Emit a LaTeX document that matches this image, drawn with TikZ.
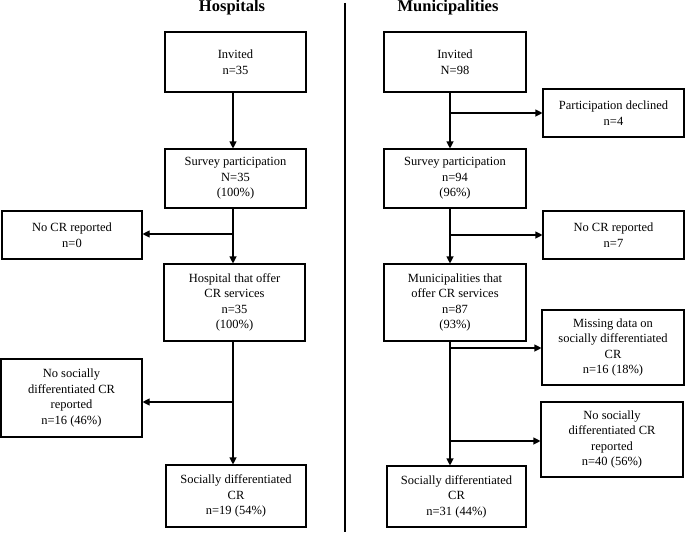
\documentclass[tikz,border=0pt]{standalone}
\usepackage{fontspec}
\setmainfont{Liberation Serif}
\usetikzlibrary{arrows.meta}
\begin{document}
\begin{tikzpicture}[x=1pt,y=-1pt,
  box/.style={draw,line width=1.1pt,rectangle,inner sep=0pt,align=center,
    font=\fontsize{12.5}{15.5}\selectfont},
  arr/.style={line width=1.1pt,-{Triangle[length=7pt,width=7pt]}},
  divider/.style={line width=1.3pt},
  title/.style={font=\fontsize{16.5}{18}\selectfont\bfseries,anchor=base,inner sep=0pt}]
\useasboundingbox (0,0) rectangle (685,535);

% titles
\node[title] (th) at (232,12) {Hospitals};
\node[title] (tm) at (448,12) {Municipalities};

% divider
\coordinate (dtop) at (345,3);
\coordinate (dbot) at (345,532);
\draw[divider] (dtop) -- (dbot);

% Hospitals
\node[box,minimum width=141pt,minimum height=60pt] (hinv) at (235.5,62) {Invited\\n=35};
\node[box,minimum width=141pt,minimum height=59pt] (hsur) at (235.5,178.5) {Survey participation\\N=35\\(100\%)};
\node[box,minimum width=140pt,minimum height=48pt] (hnocr) at (72,235) {No CR reported\\n=0};
\node[box,minimum width=141pt,minimum height=77pt] (hoff) at (234.5,302.5) {Hospital that offer\\CR services\\n=35\\(100\%)};
\node[box,minimum width=141pt,minimum height=78pt] (hnosoc) at (71.5,398) {No socially\\differentiated CR\\reported\\n=16 (46\%)};
\node[box,minimum width=140pt,minimum height=62pt] (hsoc) at (236,496) {Socially differentiated\\CR\\n=19 (54\%)};

\coordinate (hx) at (233,0);
\draw[arr] (hinv.south -| hx) -- (hsur.north -| hx);
\draw[arr] (hsur.south -| hx) -- (hoff.north -| hx);
\draw[arr] (hoff.south -| hx) -- (hsoc.north -| hx);
\coordinate (hb1) at (233,234);
\coordinate (hb2) at (233,402);
\draw[arr] (hb1) -- (hb1 -| hnocr.east);
\draw[arr] (hb2) -- (hb2 -| hnosoc.east);

% Municipalities
\node[box,minimum width=142pt,minimum height=60pt] (minv) at (455,62) {Invited\\N=98};
\node[box,minimum width=141pt,minimum height=48pt] (mdec) at (613.5,113) {Participation declined\\n=4};
\node[box,minimum width=142pt,minimum height=59pt] (msur) at (455,178.5) {Survey participation\\n=94\\(96\%)};
\node[box,minimum width=141pt,minimum height=48pt] (mnocr) at (613.5,235) {No CR reported\\n=7};
\node[box,minimum width=142pt,minimum height=77pt] (moff) at (455,302.5) {Municipalities that\\offer CR services\\n=87\\(93\%)};
\node[box,minimum width=142pt,minimum height=75pt] (mmiss) at (613,347.5) {Missing data on\\socially differentiated\\CR\\n=16 (18\%)};
\node[box,minimum width=142pt,minimum height=75pt] (mnosoc) at (612,439.5) {No socially\\differentiated CR\\reported\\n=40 (56\%)};
\node[box,minimum width=139pt,minimum height=61pt] (msoc) at (456.5,496.5) {Socially differentiated\\CR\\n=31 (44\%)};

\coordinate (mx) at (450,0);
\draw[arr] (minv.south -| mx) -- (msur.north -| mx);
\draw[arr] (msur.south -| mx) -- (moff.north -| mx);
\draw[arr] (moff.south -| mx) -- (msoc.north -| mx);
\coordinate (mb1) at (450,113);
\coordinate (mb2) at (450,235);
\coordinate (mb3) at (450,348);
\coordinate (mb4) at (450,441);
\draw[arr] (mb1) -- (mb1 -| mdec.west);
\draw[arr] (mb2) -- (mb2 -| mnocr.west);
\draw[arr] (mb3) -- (mb3 -| mmiss.west);
\draw[arr] (mb4) -- (mb4 -| mnosoc.west);
\end{tikzpicture}
\end{document}
